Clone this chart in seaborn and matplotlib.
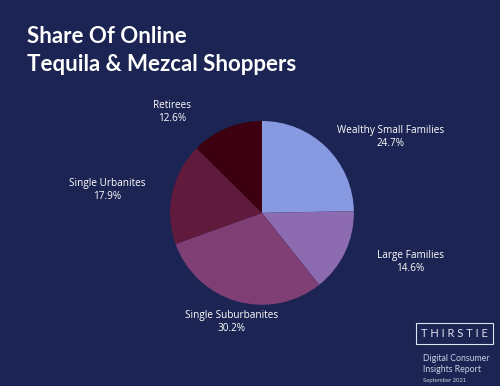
import matplotlib
matplotlib.use("Agg")
import numpy as np
import matplotlib.pyplot as plt
import seaborn as sns

# data
segments = ['Wealthy Small Families', 'Large Families', 'Single Suburbanites',
            'Single Urbanites', 'Retirees']
shares = [24.7, 14.6, 30.2, 17.9, 12.6]
segment_colors = ['#8799e0', '#8c6bb1', '#7f3f74', '#601b3c', '#3d0010']

# label placement tweaks (angle shift in degrees, radius)
label_shift = [-15, 7, 0, 4, 19]
label_radius = [1.63, 1.70, 1.23, 1.70, 1.47]

bg = '#1b2452'
sns.set_theme(style='white')
plt.rcParams['font.family'] = ['Lato', 'DejaVu Sans']

fig = plt.figure(figsize=(5, 3.86), dpi=100)
fig.patch.set_facecolor(bg)

ax = fig.add_axes([0.184, 0.008, 0.68, 0.881])
ax.set_facecolor(bg)

labels = [f'{s}\n{v}%' for s, v in zip(segments, shares)]
wedges, texts = ax.pie(shares, labels=labels, colors=sns.color_palette(segment_colors),
                       startangle=90, counterclock=False, labeldistance=1.5,
                       textprops=dict(color='white', fontsize=7.2, ha='center',
                                      va='center', linespacing=1.25,
                                      family=['Open Sans', 'DejaVu Sans']),
                       wedgeprops=dict(linewidth=0))
for w, t, sh, r in zip(wedges, texts, label_shift, label_radius):
    ang = np.deg2rad((w.theta1 + w.theta2) / 2 + sh)
    t.set_position((r * np.cos(ang), r * np.sin(ang)))
    t.set_ha('center')

ax.set_xlim(-1.85, 1.85)
ax.set_ylim(-1.85, 1.85)
ax.set_aspect('auto')
ax.axis('off')

fig.text(0.054, 0.889, 'Share Of Online', color='white', fontsize=16,
         fontweight='bold', va='baseline')
fig.text(0.054, 0.815, 'Tequila & Mezcal Shoppers', color='white', fontsize=16,
         fontweight='bold', va='baseline')

# branding
fig.text(0.909, 0.137, 'T H I R S T I E', color='#dfe3ef', fontsize=8,
         ha='center', va='center',
         bbox=dict(boxstyle='square,pad=0.45', fc='none', ec='#dfe3ef', lw=0.8))
fig.text(0.846, 0.036, 'Digital Consumer\nInsights Report', color='#c9cfe3',
         fontsize=6.3, va='baseline', linespacing=1.3)
fig.text(0.846, 0.01, 'September 2021', color='#c9cfe3', fontsize=4.2,
         va='baseline')

fig.savefig('out.png', dpi=100, facecolor=bg)
